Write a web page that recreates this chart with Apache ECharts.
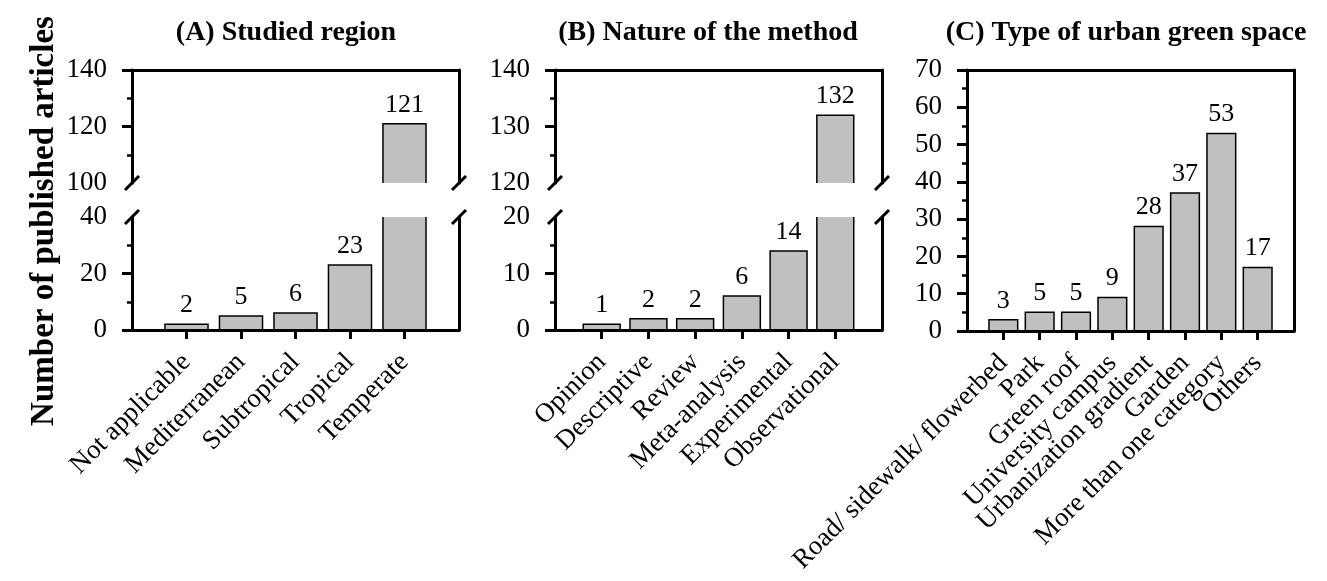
<!DOCTYPE html>
<html>
<head>
<meta charset="utf-8">
<script src="https://cdn.jsdelivr.net/npm/echarts@6/dist/echarts.min.js"></script>
<style>
html,body{margin:0;padding:0;background:#fff;}
#chart{width:1327px;height:581px;}
</style>
</head>
<body>
<div id="chart"></div>
<script>
// ---------- DATA ----------
const regionCats = ['Not applicable', 'Mediterranean', 'Subtropical', 'Tropical', 'Temperate'];
const regionVals = [2, 5, 6, 23, 121];
const methodCats = ['Opinion', 'Descriptive', 'Review', 'Meta-analysis', 'Experimental', 'Observational'];
const methodVals = [1, 2, 2, 6, 14, 132];
const spaceCats = ['Road/ sidewalk/ flowerbed', 'Park', 'Green roof', 'University campus',
  'Urbanization gradient', 'Garden', 'More than one category', 'Others'];
const spaceVals = [3, 5, 5, 9, 28, 37, 53, 17];
const panelTitles = ['(A) Studied region', '(B) Nature of the method', '(C) Type of urban green space'];
const yTitle = 'Number of published articles';
// y ranges (tick labels): [min, max, interval]
const aUpper = [100, 140, 20], aLower = [0, 40, 20];
const bUpper = [120, 140, 10], bLower = [0, 20, 10];
const cFull = [0, 70, 10];

// ---------- STYLE ----------
const FONT = 'Liberation Serif';
const BLACK = '#000';
const AXW = 3;
const BAR_FILL = '#c0c0c0';
const BAR_RATIO = 0.79;
const CAT_MARGIN = 28;

const chart = echarts.init(document.getElementById('chart'), null, {renderer: 'canvas'});

const grids = [
  {left: 132, top: 70, width: 327, height: 113},   // A upper
  {left: 132, top: 217, width: 327, height: 113},  // A lower
  {left: 555, top: 70, width: 327, height: 113},   // B upper
  {left: 555, top: 217, width: 327, height: 113},  // B lower
  {left: 967, top: 70, width: 327, height: 261}    // C
];

const xAxes = [], yAxes = [], series = [];
const notBlank = (i, v) => v !== '';

function padCats(c) { return [''].concat(c).concat(['']); }

function addX(gi, cats, kind) {
  // kind: 'top' (frame only) or 'bottom' (ticks)
  const top = kind === 'top';
  xAxes.push({
    gridIndex: gi, type: 'category', data: padCats(cats), boundaryGap: false,
    position: top ? 'top' : 'bottom', z: 5,
    axisLine: {show: true, onZero: false, lineStyle: {color: BLACK, width: AXW}},
    axisTick: {show: !top, length: 9, interval: notBlank, lineStyle: {color: BLACK, width: AXW}},
    axisLabel: {show: false},
    splitLine: {show: false}
  });
  return xAxes.length - 1;
}

function addY(gi, rng, tickVals) {
  const left = {
    gridIndex: gi, type: 'value', min: rng[0], max: rng[1], interval: rng[2], position: 'left', z: 5,
    axisLine: {show: true, onZero: false, lineStyle: {color: BLACK, width: AXW}},
    axisTick: {show: true, length: 10, lineStyle: {color: BLACK, width: AXW}},
    minorTick: {show: true, splitNumber: 2, length: 5, lineStyle: {color: BLACK, width: 2.5}},
    axisLabel: {fontFamily: FONT, fontSize: 27, color: BLACK, margin: 25},
    splitLine: {show: false}
  };
  if (tickVals) left.axisTick.customValues = tickVals;
  yAxes.push(left);
  const idx = yAxes.length - 1;
  yAxes.push({
    gridIndex: gi, type: 'value', min: rng[0], max: rng[1], interval: rng[2], position: 'right', z: 5,
    axisLine: {show: true, onZero: false, lineStyle: {color: BLACK, width: AXW}},
    axisTick: {show: false}, axisLabel: {show: false}, splitLine: {show: false}
  });
  return idx;
}

function renderBar(params, api) {
  const i = api.value(0), v = api.value(1);
  const cs = params.coordSys;
  const p0 = api.coord([i, 0]);
  const p1 = api.coord([i, v]);
  const step = api.coord([i + 1, 0])[0] - p0[0];
  const w = step * BAR_RATIO;
  const xL = p0[0] - w / 2, xR = p0[0] + w / 2;
  const bottom = Math.min(p0[1], cs.y + cs.height);
  const topClipped = p1[1] < cs.y;
  const top = Math.max(p1[1], cs.y);
  if (bottom <= top) return null;
  const lineStyle = {stroke: BLACK, lineWidth: 1.5, fill: null};
  const children = [{
    type: 'rect', shape: {x: xL, y: top, width: w, height: bottom - top},
    style: {fill: BAR_FILL}
  }];
  if (topClipped) {
    children.push({type: 'line', shape: {x1: xL, y1: top, x2: xL, y2: bottom}, style: lineStyle});
    children.push({type: 'line', shape: {x1: xR, y1: top, x2: xR, y2: bottom}, style: lineStyle});
  } else {
    children.push({type: 'polyline', shape: {points: [[xL, bottom], [xL, top], [xR, top], [xR, bottom]]},
      style: lineStyle});
    children.push({type: 'text', x: p0[0], y: top - 6,
      style: {text: String(v), fontFamily: FONT, fontSize: 26, fill: BLACK,
        align: 'center', verticalAlign: 'bottom'}});
  }
  return {type: 'group', children: children};
}

function addBars(xi, yi, vals) {
  series.push({
    type: 'custom', xAxisIndex: xi, yAxisIndex: yi, z: 2,
    encode: {x: 0, y: 1},
    data: vals.map((v, k) => [k + 1, v]),
    renderItem: renderBar
  });
}

// rotated category labels, placed through the category axis scale
function addCatLabels(xi, yi, cats, yMin) {
  series.push({
    type: 'custom', xAxisIndex: xi, yAxisIndex: yi, z: 3, silent: true,
    encode: {x: 0, y: 1},
    data: cats.map((c, k) => [k + 1, yMin]),
    renderItem: function (params, api) {
      const i = api.value(0);
      const p = api.coord([i, api.value(1)]);
      return {type: 'text', x: p[0], y: p[1] + CAT_MARGIN, rotation: Math.PI / 4,
        style: {text: cats[i - 1], fontFamily: FONT, fontSize: 27, fill: BLACK,
          align: 'right', verticalAlign: 'middle'}};
    }
  });
}

// Panel A
let xi, yi;
xi = addX(0, regionCats, 'top'); yi = addY(0, aUpper, [120, 140]); addBars(xi, yi, regionVals);
xi = addX(1, regionCats, 'bottom'); yi = addY(1, aLower, [0, 20]); addBars(xi, yi, regionVals);
addCatLabels(xi, yi, regionCats, aLower[0]);
// Panel B
xi = addX(2, methodCats, 'top'); yi = addY(2, bUpper, [130, 140]); addBars(xi, yi, methodVals);
xi = addX(3, methodCats, 'bottom'); yi = addY(3, bLower, [0, 10]); addBars(xi, yi, methodVals);
addCatLabels(xi, yi, methodCats, bLower[0]);
// Panel C
xi = addX(4, spaceCats, 'bottom'); addX(4, spaceCats, 'top'); yi = addY(4, cFull, null); addBars(xi, yi, spaceVals);
addCatLabels(xi, yi, spaceCats, cFull[0]);

chart.setOption({
  backgroundColor: '#fff',
  animation: false,
  grid: grids,
  xAxis: xAxes,
  yAxis: yAxes,
  series: series
});

// ---------- decorations: titles, y title, axis-break marks ----------
const graphics = [];
const titleX = [286, 708, 1126];
panelTitles.forEach((t, k) => {
  graphics.push({type: 'text', x: titleX[k], y: 33, z: 10,
    style: {text: t, fontFamily: FONT, fontWeight: 'bold', fontSize: 28, fill: BLACK,
      align: 'center', verticalAlign: 'middle'}});
});
graphics.push({type: 'text', x: 44, y: 221, rotation: Math.PI / 2, z: 10,
  style: {text: yTitle, fontFamily: FONT, fontWeight: 'bold', fontSize: 33, fill: BLACK,
    align: 'center', verticalAlign: 'middle'}});

function slash(cx, cy) {
  graphics.push({type: 'line', z: 10,
    shape: {x1: cx - 7, y1: cy + 7, x2: cx + 7, y2: cy - 7},
    style: {stroke: BLACK, lineWidth: AXW}});
}
[[0, 1, aUpper, aLower, regionCats.length + 1], [2, 3, bUpper, bLower, methodCats.length + 1]].forEach(p => {
  const [gu, gl, ru, rl, last] = p;
  const ulL = chart.convertToPixel({gridIndex: gu}, [0, ru[0]]);
  const ulR = chart.convertToPixel({gridIndex: gu}, [last, ru[0]]);
  const llL = chart.convertToPixel({gridIndex: gl}, [0, rl[1]]);
  const llR = chart.convertToPixel({gridIndex: gl}, [last, rl[1]]);
  slash(ulL[0], ulL[1]); slash(ulR[0], ulR[1]);
  slash(llL[0], llL[1]); slash(llR[0], llR[1]);
});

chart.setOption({graphic: graphics});
</script>
</body>
</html>
